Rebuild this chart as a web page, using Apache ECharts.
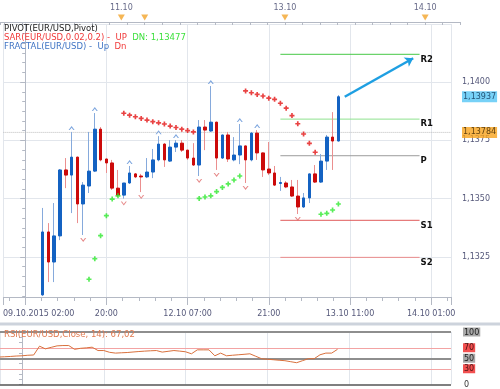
<!DOCTYPE html>
<html><head><meta charset="utf-8">
<script src="https://cdn.jsdelivr.net/npm/echarts@6/dist/echarts.min.js"></script>
<style>html,body{margin:0;padding:0;background:#fff}#c{width:500px;height:389px}</style>
</head><body><div id="c"></div>
<script>
// ---------------- data ----------------
// bar index: 0 = 09.10.2015 02:00, one bar per hour slot
const candleIdx = [3,4,5,6,7,8,9,10,11,12,13,14,15,16,17,18,19,20,21,22,23,24,25,26,27,28,
  29,30,31,32,33,34,35,36,37,38,39,40,41,42,43,44,45,46,47,48,49,50,51,52,53,54];
const opens  = [1.13087,1.13357,1.13228,1.13340,1.13623,1.13601,1.13678,1.13477,1.13554,1.13618,1.13798,1.13670,1.13653,1.13545,1.13515,1.13567,1.13606,1.13597,1.13593,1.13614,1.13666,1.13734,1.13661,1.13721,1.13738,1.13708,
  1.13674,1.13644,1.13807,1.13790,1.13828,1.13674,1.13773,1.13666,1.13687,1.13726,1.13666,1.13781,1.13696,1.13627,1.13610,1.13565,1.13567,1.13550,1.13511,1.13464,1.13503,1.13606,1.13571,1.13661,1.13764,1.13747];
const closes = [1.13357,1.13228,1.13340,1.13623,1.13601,1.13678,1.13477,1.13558,1.13618,1.13798,1.13666,1.13653,1.13545,1.13515,1.13567,1.13610,1.13593,1.13593,1.13614,1.13666,1.13734,1.13666,1.13721,1.13738,1.13708,1.13674,
  1.13644,1.13807,1.13794,1.13828,1.13674,1.13773,1.13670,1.13687,1.13726,1.13666,1.13781,1.13696,1.13623,1.13610,1.13558,1.13569,1.13550,1.13511,1.13464,1.13503,1.13606,1.13571,1.13661,1.13764,1.13747,1.13937];
const lows   = [1.13082,1.13142,1.13142,1.13322,1.13545,1.13438,1.13395,1.13344,1.13524,1.13614,1.13660,1.13610,1.13537,1.13507,1.13500,1.13563,1.13588,1.13528,1.13588,1.13588,1.13660,1.13636,1.13657,1.13700,1.13700,1.13666,
  1.13640,1.13597,1.13708,1.13786,1.13623,1.13670,1.13657,1.13660,1.13648,1.13567,1.13660,1.13666,1.13593,1.13601,1.13554,1.13533,1.13545,1.13507,1.13434,1.13460,1.13481,1.13567,1.13567,1.13623,1.13623,1.13745];
const highs  = [1.13460,1.13395,1.13481,1.13627,1.13674,1.13786,1.13680,1.13571,1.13786,1.13867,1.13807,1.13672,1.13666,1.13623,1.13567,1.13640,1.13610,1.13606,1.13674,1.13713,1.13768,1.13738,1.13751,1.13751,1.13751,1.13710,
  1.13738,1.13837,1.13837,1.13983,1.13830,1.13775,1.13786,1.13764,1.13820,1.13728,1.13785,1.13794,1.13698,1.13743,1.13640,1.13593,1.13575,1.13580,1.13580,1.13524,1.13608,1.13644,1.13691,1.13773,1.13871,1.13944];

// Parabolic SAR dots [barIndex, value]
const sarDown = [[17,1.13866],[18,1.13858],[19,1.13851],[20,1.13844],[21,1.13837],[22,1.13830],[23,1.13825],[24,1.13820],[25,1.13811],[26,1.13805],[27,1.13798],[28,1.13792],[29,1.13786],
  [38,1.13962],[39,1.13954],[40,1.13947],[41,1.13940],[42,1.13931],[43,1.13926],[44,1.13909],[45,1.13888],[46,1.13856],[47,1.13821],[48,1.13777],[49,1.13737],[50,1.13699]];
const sarUp = [[11,1.13154],[12,1.13242],[13,1.13341],[14,1.13427],[15,1.13498],[16,1.13512],
  [30,1.13501],[31,1.13507],[32,1.13512],[33,1.13530],[34,1.13548],[35,1.13563],[36,1.13580],[37,1.13597],
  [51,1.13433],[52,1.13437],[53,1.13451],[54,1.13477]];

// Fractals (bar indices)
const fractalUpIdx = [8,12,18,23,26,32,37,40];
const fractalDnIdx = [10,17,20,30,33,38,47];

// Pivot levels
const pivotNames  = ['R2','R1','P','S1','S2'];
const pivotValues = [1.14119,1.13841,1.13684,1.13407,1.13248];
const pivotRange  = [44, 68];

// annotation arrow [barIndex, price]
const arrowFrom = [55.1, 1.13937];
const arrowTo   = [66.9, 1.14102];

// current price markers
const priceBlue = 1.13937;
const priceOrange = 1.13784;

// RSI(14) for bars -4 .. 54
const rsiStart = -4;
const rsiValues = [52.3,52.8,53.4,54.2,54.7,55.7,56.2,73.0,67.9,70.8,73.6,74.2,74.2,67.0,68.9,69.8,71.1,64.7,64.7,61.3,
  59.8,60.4,60.9,61.9,62.8,63.6,64.2,64.7,61.7,63.2,64.7,63.6,62.3,58.5,66.0,66.0,66.0,54.7,59.8,54.7,
  55.7,56.6,57.5,58.5,53.8,49.1,48.1,47.2,46.2,45.3,43.4,41.5,45.3,49.1,49.1,56.6,59.8,59.8,67.02];
const rsiLevels = [100,70,50,30,0];

// axis tick labels
const bottomTickIdx = [0,14,28,42,56,70];
const bottomLabels = ['09.10.2015 02:00','20:00','12.10 07:00','21:00','13.10 11:00','14.10 01:00'];
const topMarkIdx = [17,21,45,69];
const topLabels = ['11.10','','13.10','14.10'];

// ---------------- chart ----------------
const FONT = 'DejaVu Sans';
const X_MIN = -3.765, X_MAX = 73.42, X_MAX_TOP = 74.96;
const Y_MIN = 1.13078, Y_MAX = 1.14249;
const GRID_LINE = '#e2e6ec';
const AXIS_LINE = '#b4b9c4';
const LABEL_COL = '#55587a';
const fmtPrice = (v, d) => v.toFixed(d).replace('.', ',');

const wickData = candleIdx.map((x,k) => [x, opens[k], closes[k], lows[k], highs[k]]);
const bodyData = candleIdx.map((x,k) => [x, opens[k], closes[k], Math.min(opens[k],closes[k]), Math.max(opens[k],closes[k])]);
const valAt = (arr, i) => arr[candleIdx.indexOf(i)];
const fracUpData = fractalUpIdx.map(i => [i, valAt(highs, i)]);
const fracDnData = fractalDnIdx.map(i => [i, valAt(lows, i)]);
const rsiData = rsiValues.map((v,k) => [rsiStart + k, v]);

const plus = 'path://M1,0H2V1H3V2H2V3H1V2H0V1H1Z';
const chevUp = 'path://M0,4L3,0L6,4L4.8,4L3,1.7L1.2,4Z';
const chevDn = 'path://M0,0L3,4L6,0L4.8,0L3,2.3L1.2,0Z';

const pivotColors = ['#46c846','#8ee28e','#9c9c9c','#e05a5a','#eb8c8c'];

const chart = echarts.init(document.getElementById('c'));

const pivotSeries = pivotNames.map((n,k) => ({
  type:'line', xAxisIndex:0, yAxisIndex:0, silent:true, z:1,
  data:[[pivotRange[0], pivotValues[k]],[pivotRange[1], pivotValues[k]]],
  symbol:'none', lineStyle:{color:pivotColors[k], width:1},
  endLabel:{show:true, formatter:n, distance:1, offset:[0,5], color:'#111', fontFamily:FONT, fontSize:8.5, fontWeight:'bold'}
}));
pivotSeries[0].markLine = {
  silent:true, symbol:['none','arrow'], symbolSize:8, z:10,
  lineStyle:{color:'#1e9fe2', width:2.5, type:'solid'}, label:{show:false},
  data:[[{coord:arrowFrom},{coord:arrowTo}]]
};

const rsiLineStyles = {
  100:{color:'#8e8e8e', width:2}, 70:{color:'#f3a3a3', width:1}, 50:{color:'#8e8e8e', width:2},
  30:{color:'#f3a3a3', width:1}, 0:{color:'#555', width:1.5}
};

const priceTag = (v, bg, fg) => ({
  value:[X_MAX, v],
  label:{show:true, position:'right', distance:11, formatter:fmtPrice(v,5), backgroundColor:bg, color:fg,
         padding:[2,1,1,1], fontFamily:FONT, fontSize:8}
});

chart.setOption({
  animation:false,
  backgroundColor:'#fff',
  textStyle:{fontFamily:FONT},
  title:[
    {left:4, top:24, padding:0,
     text:'{k|PIVOT(EUR/USD,Pivot)}\n{r|SAR(EUR/USD,0.02,0.2) -  UP}  {g|DN: ' + fmtPrice(sarUp[sarUp.length-1][1],5) + '}\n{b|FRACTAL(EUR/USD) -  Up}  {r|Dn}',
     textStyle:{fontFamily:FONT, fontSize:8.5, fontWeight:'normal', lineHeight:9,
       rich:{k:{color:'#222', fontSize:8.5, lineHeight:9}, r:{color:'#f03a3a', fontSize:8.5, lineHeight:9},
             g:{color:'#3ee03e', fontSize:8.5, lineHeight:9}, b:{color:'#3f74c4', fontSize:8.5, lineHeight:9}}}},
    {left:4, top:330, padding:0,
     text:'RSI(EUR/USD,Close, 14): ' + fmtPrice(rsiValues[rsiValues.length-1],2),
     textStyle:{fontFamily:FONT, fontSize:8.5, fontWeight:'normal', color:'#e07a50'}}
  ],
  graphic:[{type:'rect', shape:{x:0, y:322.5, width:500, height:3}, style:{fill:'#cdd3dc'}, silent:true}],
  grid:[
    {left:0, right:49, top:24, height:273},
    {left:0, right:49, top:332, height:53},
    {left:0, right:40, top:14, height:8}
  ],
  xAxis:[
    {type:'value', gridIndex:0, min:X_MIN, max:X_MAX, minInterval:14, maxInterval:14, position:'bottom',
     axisLine:{show:true, lineStyle:{color:AXIS_LINE}},
     axisTick:{show:true, length:8, lineStyle:{color:AXIS_LINE}},
     minorTick:{show:true, splitNumber:5, length:4, lineStyle:{color:AXIS_LINE}},
     splitLine:{show:true, lineStyle:{color:GRID_LINE}},
     axisLabel:{show:true, showMinLabel:false, showMaxLabel:false, margin:13, color:LABEL_COL, fontFamily:FONT, fontSize:8,
       formatter:v => { const k = bottomTickIdx.findIndex(t => Math.abs(t-v) < 1e-6); if (k < 0) return ''; return k === 0 ? '{first|' + bottomLabels[0] + '}' : bottomLabels[k]; },
       rich:{first:{padding:[0,0,0,27], color:LABEL_COL, fontFamily:FONT, fontSize:8}}}},
    {type:'value', gridIndex:1, min:X_MIN, max:X_MAX, minInterval:14, maxInterval:14,
     axisLine:{show:false}, axisTick:{show:false}, axisLabel:{show:false},
     splitLine:{show:true, lineStyle:{color:GRID_LINE}}},
    {type:'value', gridIndex:2, min:X_MIN, max:X_MAX_TOP, minInterval:3, maxInterval:3, position:'top',
     axisLine:{show:true, lineStyle:{color:AXIS_LINE}},
     axisTick:{show:true, inside:true, length:3, lineStyle:{color:AXIS_LINE}},
     axisLabel:{show:false}, splitLine:{show:false}}
  ],
  yAxis:[
    {type:'value', gridIndex:0, position:'right', offset:9, min:Y_MIN, max:Y_MAX, minInterval:0.0025, maxInterval:0.0025,
     axisLine:{show:true, lineStyle:{color:AXIS_LINE}},
     axisTick:{show:true, inside:true, length:5, lineStyle:{color:AXIS_LINE}},
     minorTick:{show:true, splitNumber:6, length:3, lineStyle:{color:AXIS_LINE}},
     splitLine:{show:true, lineStyle:{color:GRID_LINE}},
     axisLabel:{show:true, showMinLabel:false, showMaxLabel:false, hideOverlap:false, margin:2, color:LABEL_COL, fontFamily:FONT, fontSize:8,
       formatter:v => fmtPrice(v,4)}},
    {type:'value', gridIndex:1, position:'right', offset:10, min:0, max:100, interval:10,
     axisLine:{show:true, lineStyle:{color:AXIS_LINE}},
     axisTick:{show:true, inside:true, length:3, lineStyle:{color:AXIS_LINE}},
     splitLine:{show:false},
     axisLabel:{show:true, margin:2, fontFamily:FONT, fontSize:8,
       formatter:v => { const r = Math.round(v); if (!rsiLevels.includes(r) || Math.abs(r-v) > 1e-6) return '';
         return (r === 70 || r === 30 ? '{r|' : (r === 0 ? '{w|' : '{g|')) + r + '}'; },
       rich:{g:{backgroundColor:'#a9a9a9', color:'#222', padding:[1,1,0,1], fontSize:8, fontFamily:FONT},
             r:{backgroundColor:'#f25050', color:'#4a1010', padding:[1,1,0,1], fontSize:8, fontFamily:FONT},
             w:{color:'#333', padding:[1,1,0,1], fontSize:8, fontFamily:FONT}}}},
    {type:'value', gridIndex:2, min:0, max:1, show:false}
  ],
  series:[
    ...pivotSeries,
    {type:'line', xAxisIndex:0, yAxisIndex:0, z:2, silent:true, symbol:'none',
     data:[[X_MIN, priceOrange],[X_MAX, priceOrange]], lineStyle:{type:'dotted', color:'#bdbdbd', width:1}},
    {type:'candlestick', name:'wick', xAxisIndex:0, yAxisIndex:0, z:3, silent:true,
     data:wickData, encode:{x:0, y:[1,2,3,4]}, barWidth:1,
     itemStyle:{color:'#86aadc', color0:'#eb8f8f', borderColor:'#86aadc', borderColor0:'#eb8f8f', borderWidth:1}},
    {type:'candlestick', name:'body', xAxisIndex:0, yAxisIndex:0, z:4, silent:true,
     data:bodyData, encode:{x:0, y:[1,2,3,4]}, barWidth:3,
     itemStyle:{color:'#1462c2', color0:'#cc0a0a', borderColor:'#1462c2', borderColor0:'#cc0a0a', borderWidth:1}},
    {type:'scatter', xAxisIndex:0, yAxisIndex:0, z:5, silent:true, data:sarDown, symbol:plus, symbolSize:5, itemStyle:{color:'#e41414'}},
    {type:'scatter', xAxisIndex:0, yAxisIndex:0, z:5, silent:true, data:sarUp, symbol:plus, symbolSize:5, itemStyle:{color:'#2ee82e'}},
    {type:'scatter', xAxisIndex:0, yAxisIndex:0, z:5, silent:true, data:fracUpData, symbol:chevUp, symbolSize:[6,4], symbolOffset:[0,-4], itemStyle:{color:'#5b8fd6'}},
    {type:'scatter', xAxisIndex:0, yAxisIndex:0, z:5, silent:true, data:fracDnData, symbol:chevDn, symbolSize:[6,4], symbolOffset:[0,5], itemStyle:{color:'#e06a6a'}},
    {type:'scatter', xAxisIndex:0, yAxisIndex:0, z:20, silent:true, clip:false, symbolSize:0,
     data:[priceTag(priceBlue,'#55c6f5','#0d3050'), priceTag(priceOrange,'#f7a21c','#3a2400')],
     labelLayout:{hideOverlap:false}},
    {type:'line', xAxisIndex:1, yAxisIndex:1, z:3, silent:true, data:rsiData, symbol:'none',
     lineStyle:{color:'#d8703c', width:1},
     markLine:{silent:true, symbol:['none','none'], z:1, label:{show:false},
       data:rsiLevels.map(l => ({yAxis:l, lineStyle:Object.assign({type:'solid'}, rsiLineStyles[l])}))}},
    {type:'scatter', xAxisIndex:2, yAxisIndex:2, z:5, silent:true,
     data:topMarkIdx.map((x,k) => ({value:[x, 0.56], label:{show:topLabels[k] !== '', formatter:topLabels[k]}})),
     symbol:'triangle', symbolRotate:180, symbolSize:[7,6], itemStyle:{color:'#f3a42a'},
     label:{position:'top', distance:3, color:'#40446a', fontFamily:FONT, fontSize:8}}
  ]
});
</script></body></html>
